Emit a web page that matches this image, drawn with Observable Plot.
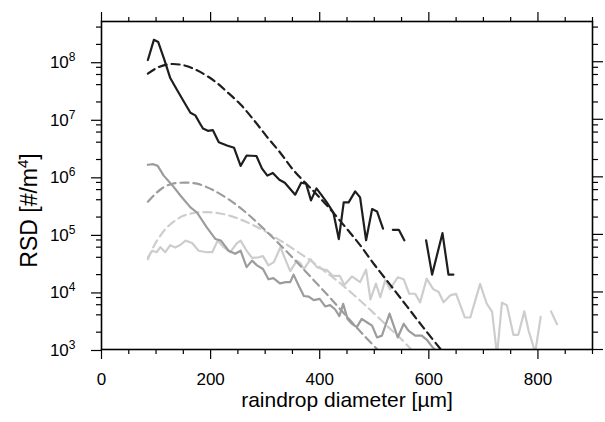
<!DOCTYPE html>
<html><head><meta charset="utf-8">
<script src="https://cdn.jsdelivr.net/npm/d3@7"></script>
<script src="https://cdn.jsdelivr.net/npm/@observablehq/plot@0.6"></script>
<style>
body{margin:0;background:#fff}
svg{font-family:"Liberation Sans",Arial,Helvetica,sans-serif}
</style>
</head><body><div id="chart"></div>
<script>
// ---- observed raindrop size distributions (diameter in µm, RSD in #/m^4) ----
const blackObsD = [85,96,104,115,126,138,150,163,172,181,186,195,204,215,230,243,255,266,284,294,304,314,326,336,355,366,375,384,394,404,413,425,435,444,453,465,474,485,496,505,516,525,534,545,555,570,595,606,625,636,645];
const blackObsN = [1.07e8,2.4e8,2.2e8,1.1e8,5.2e7,3.3e7,2.1e7,1.3e7,1.17e7,8.3e6,6.9e6,6.3e6,6.5e6,4.0e6,3.5e6,3.2e6,1.55e6,2.35e6,2.3e6,1.4e6,1.05e6,1.17e6,8.9e5,7.9e5,4.9e5,7.9e5,7.6e5,3.9e5,6.3e5,4.7e5,3.6e5,2.4e5,8.3e4,3.6e5,3.6e5,5.6e5,4.4e5,7.9e4,2.75e5,2.5e5,1.26e5,null,1.2e5,1.2e5,7.9e4,null,7.9e4,2.0e4,1.05e5,2.0e4,2.0e4];

const darkObsD = [85,95,103,114,130,145,163,175,193,209,219,233,245,255,266,276,285,296,306,315,327,338,346,352,362,371,380,389,400,410,419,428,436,443,451,459,468,477,487,496,505,514,528,543,554,563,575,587,597,606,616];
const darkObsN = [1.62e6,1.66e6,1.55e6,1.05e6,7.1e5,4.7e5,2.95e5,2.4e5,1.32e5,8.3e4,7.8e4,5.2e4,4.6e4,5.2e4,2.7e4,3.5e4,2.9e4,2.5e4,1.66e4,1.74e4,1.41e4,1.48e4,1.48e4,2.0e4,1.26e4,8.5e3,8.3e3,7.2e3,7.6e3,5.6e3,5.9e3,5.0e3,3.8e3,6.2e3,3.4e3,2.8e3,2.45e3,3.4e3,2.95e3,2.6e3,1.62e3,1.74e3,4.2e3,1.62e3,2.8e3,2.1e3,1.74e3,1.74e3,1.45e3,1.12e3,890];

const lightObsD = [85,93,101,108,117,126,135,145,154,166,178,193,203,213,224,236,248,255,266,276,288,296,306,316,328,339,346,358,364,371,383,395,404,413,424,437,445,459,474,485,493,503,511,520,529,543,554,564,575,584,596,608,618,627,639,650,666,676,694,706,716,725,734,743,755,764,775,783,795,805,814,824,835];
const lightObsN = [4.0e4,5.2e4,4.9e4,6.0e4,4.9e4,6.5e4,5.9e4,6.6e4,7.8e4,7.1e4,5.2e4,4.9e4,4.9e4,7.8e4,6.0e4,4.9e4,7.0e4,7.8e4,5.2e4,3.9e4,4.0e4,4.2e4,2.9e4,3.3e4,6.0e4,3.3e4,2.3e4,3.5e4,3.2e4,2.5e4,3.7e4,2.7e4,2.5e4,2.4e4,1.9e4,1.9e4,1.32e4,1.86e4,1.48e4,2.45e4,7.4e3,1.4e4,8.1e3,1.6e4,1.12e4,1.8e4,1.66e4,9.3e3,9.3e3,6.6e3,1.7e4,1.12e4,1.0e4,6.6e3,8.7e3,9.3e3,3.6e3,3.6e3,1.38e4,6.3e3,4.5e3,800,6.5e3,5.9e3,1.8e3,1.8e3,4.6e3,2.1e3,890,3.7e3,null,4.6e3,2.75e3];

// ---- fitted distributions (dashed) ----
const blackFitD = [85,105,126,150,175,206,230,255,280,303,328,352,389,413,444,474,500,530,560,590,622];
const blackFitN = [6.2e7,8.1e7,9.1e7,8.7e7,7.1e7,4.7e7,3.0e7,1.8e7,9.5e6,5.0e6,2.6e6,1.3e6,5.6e5,3.2e5,1.45e5,6.5e4,3.0e4,1.3e4,5.6e3,2.4e3,1.0e3];

const darkFitD = [85,100,114,130,145,160,175,190,206,236,267,297,328,358,389,419,450,480,511];
const darkFitN = [3.7e5,5.2e5,6.6e5,7.6e5,7.9e5,7.9e5,7.6e5,6.8e5,5.8e5,3.9e5,2.3e5,1.26e5,6.5e4,3.3e4,1.6e4,7.9e3,3.7e3,1.8e3,890];

const lightFitD = [85,95,105,120,135,150,175,206,236,267,297,328,358,389,419,444,474,500,529,550,570];
const lightFitN = [3.7e4,6.0e4,8.7e4,1.32e5,1.74e5,2.1e5,2.4e5,2.4e5,2.1e5,1.62e5,1.17e5,7.8e4,5.1e4,3.2e4,1.95e4,1.26e4,7.1e3,4.2e3,2.3e3,1.5e3,950];

// ---- axis ticks ----
const xMajor = [0,200,400,600,800];
const xMinor = [50,100,150,250,300,350,450,500,550,650,700,750,850,900];
const yMajor = [1e3,1e4,1e5,1e6,1e7,1e8];
const yMinor = [2e3,4e3,6e3,8e3,2e4,4e4,6e4,8e4,2e5,4e5,6e5,8e5,2e6,4e6,6e6,8e6,2e7,4e7,6e7,8e7,2e8,4e8];

const xTitle = "raindrop diameter [µm]";
const yTitle = "RSD [#/m^4]";

const rows = (ds, ns) => ds.map((d, i) => ({d, n: ns[i]}));

const cBlack = "#1e1e1e", cDark = "#9c9c9c", cLight = "#cdcdcd";
const lw = 2.2, dash = "8,5";
const tickStyle = {stroke: "#000", strokeWidth: 1.2};
const tickFont = 17;

const chart = Plot.plot({
  width: 605, height: 422,
  marginLeft: 101, marginRight: 13, marginTop: 21, marginBottom: 73,
  x: {domain: [0, 900]},
  y: {type: "log", domain: [1e3, 5e8]},
  style: {fontFamily: '"Liberation Sans",Arial,sans-serif', background: "#fff", color: "#000"},
  marks: [
    Plot.line(rows(lightFitD, lightFitN), {x: "d", y: "n", stroke: cLight, strokeWidth: lw, strokeDasharray: dash, curve: "catmull-rom", clip: true}),
    Plot.line(rows(lightObsD, lightObsN), {x: "d", y: "n", stroke: cLight, strokeWidth: lw, clip: true}),
    Plot.line(rows(darkFitD, darkFitN), {x: "d", y: "n", stroke: cDark, strokeWidth: lw, strokeDasharray: dash, curve: "catmull-rom", clip: true}),
    Plot.line(rows(darkObsD, darkObsN), {x: "d", y: "n", stroke: cDark, strokeWidth: lw, clip: true}),
    Plot.line(rows(blackFitD, blackFitN), {x: "d", y: "n", stroke: cBlack, strokeWidth: lw, strokeDasharray: dash, curve: "catmull-rom", clip: true}),
    Plot.line(rows(blackObsD, blackObsN), {x: "d", y: "n", stroke: cBlack, strokeWidth: lw, clip: true}),

    Plot.axisX({anchor: "bottom", ticks: xMajor, tickSize: 10, tickPadding: 13, fontSize: tickFont, label: null, tickFormat: d => String(d), ...tickStyle}),
    Plot.axisX({anchor: "bottom", ticks: xMinor, tickSize: 5, label: null, tickFormat: () => "", ...tickStyle}),
    Plot.axisX({anchor: "top", ticks: xMajor, tickSize: 10, label: null, tickFormat: () => "", ...tickStyle}),
    Plot.axisX({anchor: "top", ticks: xMinor, tickSize: 5, label: null, tickFormat: () => "", ...tickStyle}),

    Plot.axisY({anchor: "left", ticks: yMajor, tickSize: 10, tickPadding: 16, fontSize: tickFont, dy: 1, label: null, tickFormat: d => "10^" + Math.round(Math.log10(d)), ...tickStyle}),
    Plot.axisY({anchor: "left", ticks: yMinor, tickSize: 5, label: null, tickFormat: () => "", ...tickStyle}),
    Plot.axisY({anchor: "right", ticks: yMajor, tickSize: 10, label: null, tickFormat: () => "", ...tickStyle}),
    Plot.axisY({anchor: "right", ticks: yMinor, tickSize: 5, label: null, tickFormat: () => "", ...tickStyle}),

    Plot.frame({stroke: "#000", strokeWidth: 1.6}),

    Plot.text([xTitle], {text: d => d, frameAnchor: "bottom", textAnchor: "middle", dy: 57, fontSize: 21}),
    Plot.text([yTitle], {text: d => d, frameAnchor: "left", textAnchor: "middle", dx: -72, dy: 25, rotate: -90, fontSize: 23})
  ]
});

// superscripts
const NS = "http://www.w3.org/2000/svg";
chart.querySelectorAll("text").forEach(t => {
  const s = t.textContent;
  const m = s.match(/^10\^(\d)$/);
  if (m) {
    t.textContent = "10";
    const sup = document.createElementNS(NS, "tspan");
    sup.setAttribute("dy", "-7");
    sup.setAttribute("font-size", "12");
    sup.textContent = m[1];
    t.appendChild(sup);
  } else if (s === yTitle) {
    t.textContent = "RSD [#/m";
    const sup = document.createElementNS(NS, "tspan");
    sup.setAttribute("dy", "-9");
    sup.setAttribute("font-size", "15");
    sup.textContent = "4";
    const close = document.createElementNS(NS, "tspan");
    close.setAttribute("dy", "9");
    close.textContent = "]";
    t.appendChild(sup);
    t.appendChild(close);
  }
});
document.getElementById("chart").appendChild(chart);
</script>
</body></html>
